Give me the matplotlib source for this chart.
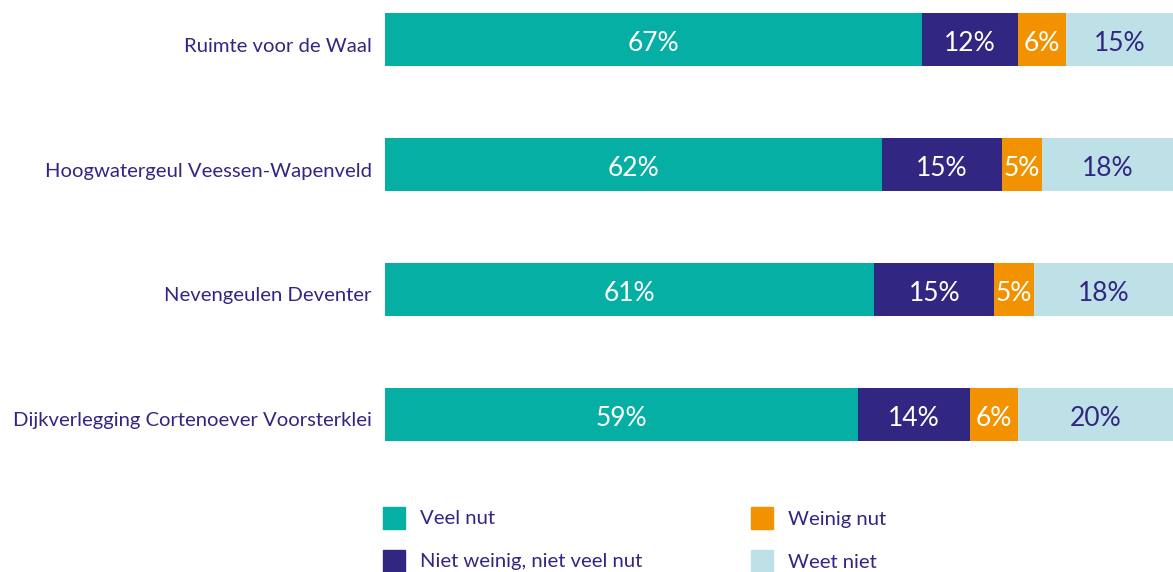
import numpy as np
import matplotlib
matplotlib.use("Agg")
from matplotlib import pyplot as plt
from matplotlib.patches import Rectangle
from matplotlib.transforms import ScaledTranslation

# data
projects = ["Ruimte voor de Waal",
            "Hoogwatergeul Veessen-Wapenveld",
            "Nevengeulen Deventer",
            "Dijkverlegging Cortenoever Voorsterklei"]
categories = ["Veel nut", "Niet weinig, niet veel nut", "Weinig nut", "Weet niet"]
# printed labels
veel_nut = [67, 62, 61, 59]
neutraal = [12, 15, 15, 14]
weinig_nut = [6, 5, 5, 6]
weet_niet = [15, 18, 18, 20]
# bar lengths as measured (the labels are rounded)
veel_nut_w = [68.1, 63.1, 62.1, 60.0]
neutraal_w = [12.2, 15.2, 15.2, 14.2]
weinig_nut_w = [6.1, 5.1, 5.1, 6.1]
weet_niet_w = [13.6, 16.6, 17.6, 19.7]

colors = ["#05AFA3", "#312783", "#F39200", "#BEE1E8"]
text_colors = ["white", "white", "white", "#312783"]
dark = "#312783"

plt.rcParams["font.family"] = ["Lato", "DejaVu Sans"]

labels_all = [veel_nut, neutraal, weinig_nut, weet_niet]
widths_all = [veel_nut_w, neutraal_w, weinig_nut_w, weet_niet_w]

W, H = 1173, 572
fig = plt.figure(figsize=(W / 100, H / 100), dpi=100)
ax = fig.add_axes([385 / W, 1 - 441 / H, 788 / W, 428 / H])

y = np.arange(len(projects))
left = np.zeros(len(projects))
for i, cat in enumerate(categories):
    w = np.array(widths_all[i])
    bars = ax.barh(y, w, left=left, height=0.424, color=colors[i], label=cat)
    texts = ax.bar_label(bars, labels=["%d%%" % v for v in labels_all[i]],
                         label_type="center", color=text_colors[i],
                         fontsize=19)
    for t in texts:
        t.xyann = (0, -3)  # sit a bit lower, like the original
    left += w

ax.set_xlim(0, 100)
ax.set_ylim(3.212, -0.212)
ax.set_yticks(y)
ax.set_yticklabels(projects, fontsize=14.6, color=dark)
ax.tick_params(axis="y", length=0, pad=9.5)
for t in ax.get_yticklabels():
    t.set_transform(t.get_transform() +
                    ScaledTranslation(0, -0.05, fig.dpi_scale_trans))
ax.set_xticks([])
for s in ax.spines.values():
    s.set_visible(False)

# legend, two columns, drawn by hand like the original
legend_pos = [(383, 507), (383, 550), (751, 507), (751, 550)]
for (px, py), cat, c in zip(legend_pos, categories, colors):
    fig.add_artist(Rectangle((px / W, 1 - (py + 22) / H), 22 / W, 22 / H,
                             transform=fig.transFigure, color=c))
    fig.text((px + 37) / W, 1 - (py + 12) / H, cat, fontsize=14.6,
             color=dark, va="center", ha="left")

fig.savefig("out.png", dpi=100)
